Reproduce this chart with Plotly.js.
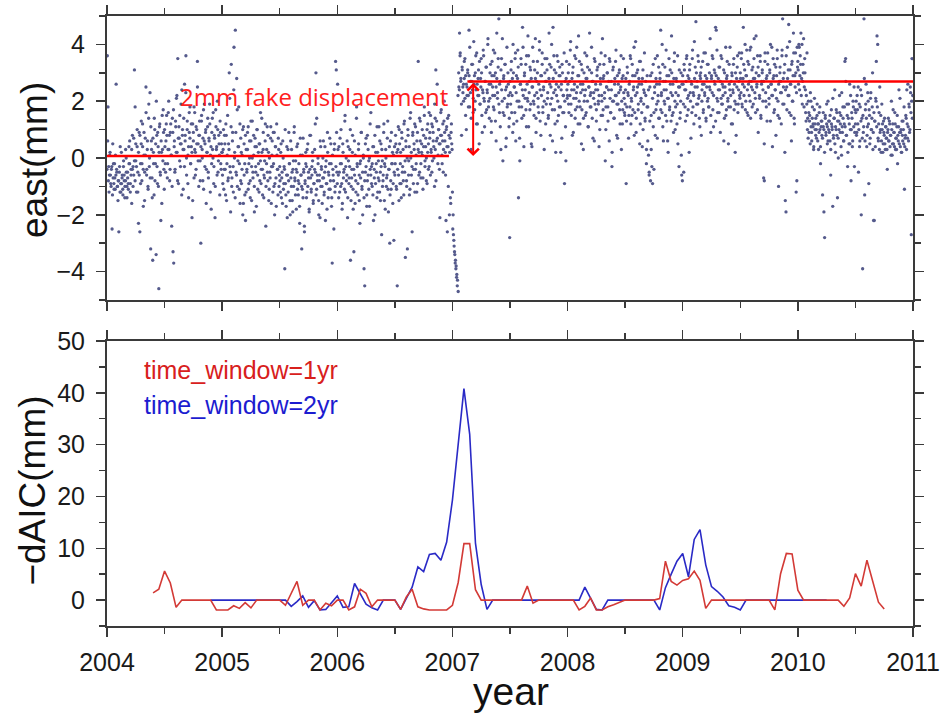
<!DOCTYPE html>
<html>
<head>
<meta charset="utf-8">
<script src="https://cdn.plot.ly/plotly-3.0.1.min.js"></script>
<style>html,body{margin:0;padding:0;background:#fff}#chart{width:941px;height:719px}</style>
</head>
<body>
<div id="chart"></div>
<script>
// ---------- top panel: east component (mm), half-year blocks, evenly sampled in time ----------
// pass 1 (samples at block positions i+0.5)
var east2004a=[3.6,1.8,-0.3,-0.6,0.2,-0.9,-0.4,-2.5,0.5,-0.2,-1.1,-0.7,0.1,2.6,-0.5,-1.0,-0.8,-2.6,-0.3,0.4,-1.2,-0.9,-0.6,-1.3,-0.1,-0.8,-1.0,0.3,-0.5,-1.4,-0.7,-1.1,-0.2,0.6,-0.9,-0.4,-1.6,0.8,-0.3,-0.6,3.1,1.8,-0.1,-1.2,0.4,-0.5,-2.3,0.9,-2.6,-0.2,0.5,-0.8,1.2,-0.4,0.1,-1.5,0.7,2.5,-0.6,0.3,-1.0,1.4,-0.3,2.3,-3.2,0.6,-0.7,-3.6,0.2,-1.3,1.0,-0.2,-3.4,0.8,-0.9,0.4,-4.6,1.1,-0.5,-2.2,0.2,1.5,-0.1,0.9,-1.1];
var east2004b=[0.4,-0.5,1.2,0.8,-0.2,1.6,0.3,-0.8,0.9,0.1,-2.4,1.4,-3.3,-3.7,0.6,-0.4,1.1,2.1,0.2,3.5,-0.9,0.7,1.5,-0.3,0.5,2.4,1.0,-1.1,0.3,2.6,0.8,3.6,-0.6,1.3,0.1,-1.4,0.9,1.8,-0.2,0.4,-2.1,1.2,0.6,-0.7,1.6,0.2,-0.4,1.0,3.4,0.5,-1.0,0.8,-0.1,-3.0,1.3,0.3,-0.8,1.7,0.6,-0.3,0.9,-1.6,0.2,1.1,-0.5,0.7,1.9,-1.2,0.4,-0.2,1.4,0.0,-0.9,0.8,-2.1,1.7,0.3,-0.6,1.0,-0.1,0.5,-1.3,0.9,-0.4,0.2];
var east2005a=[-0.6,0.3,-1.1,0.8,-0.4,1.2,-1.5,0.1,-0.8,0.5,3.0,-0.3,-1.9,3.3,-0.7,0.9,-1.2,3.9,0.2,4.5,-0.5,2.8,-1.0,0.4,1.8,-0.2,-1.6,0.7,-0.9,0.1,-2.0,1.1,-0.6,-1.3,-2.2,0.3,-0.4,0.9,-1.1,-0.2,0.6,-0.8,1.3,-1.5,0.0,-0.5,0.8,-1.0,0.4,-0.3,-1.7,1.0,-0.6,0.2,-1.2,0.5,-0.1,-0.9,1.4,-0.4,0.3,-1.4,-0.7,0.6,-2.4,-0.2,1.1,-0.8,0.2,-1.1,-0.5,0.7,-1.6,0.1,-0.3,0.9,-1.0,-2.0,0.4,-0.7,1.2,-0.4,-1.3,0.3,-0.6];
var east2005b=[-0.8,0.2,-1.4,-0.5,0.6,-1.1,-0.3,-3.9,-0.9,-1.7,0.4,-0.6,-1.2,0.9,-0.2,-2.0,-0.7,0.3,-1.5,-0.4,-1.0,1.1,-0.8,-0.1,-1.8,-0.5,0.5,-1.3,-0.9,-2.3,0.1,-0.6,-3.2,-1.1,0.7,-0.4,-2.6,-0.8,-0.2,-1.4,0.3,-1.0,-0.5,-1.9,0.8,-0.7,-1.2,-0.3,0.2,-1.6,-0.9,-0.4,1.2,3.0,-1.1,-0.6,0.0,-1.5,-0.8,-2.1,0.4,-0.3,-1.0,-0.7,0.6,-1.3,-0.5,-2.2,-0.1,-0.9,0.9,-1.4,-0.6,-0.2,-1.1,0.5,-1.7,-3.7,-0.4,-0.8,0.3,-1.2,3.4,3.1,-0.5];
var east2006a=[2.6,-0.6,0.4,-1.2,-0.2,1.0,-0.9,-1.6,0.2,-0.5,-1.1,1.5,-0.3,-0.8,0.6,-1.4,-0.1,-0.7,0.3,-3.6,-1.0,-0.4,0.8,-1.8,-3.3,-0.6,0.1,-1.2,1.8,-0.3,-0.9,0.5,-1.5,-0.2,-0.7,0.9,-1.1,-2.0,0.0,-3.9,-4.5,-0.5,0.7,-1.3,-0.8,0.3,-0.1,-1.7,1.2,-0.6,-0.3,-1.0,0.4,-2.2,-0.4,0.8,-0.9,-0.2,-1.4,0.2,-0.7,1.1,-1.2,-0.5,0.5,-2.7,-0.1,-0.8,0.9,-1.5,-0.3,0.3,-1.0,-0.6,1.3,-1.9,-0.4,-3.0,0.6,-1.1,-0.2,0.2,-0.9,-2.9,0.4];
var east2006b=[-0.2,0.5,-1.1,-4.5,0.3,-0.6,1.0,-0.9,0.2,-1.4,0.7,-0.3,-0.8,1.2,-0.5,-3.5,0.4,-1.0,-3.2,0.8,-0.1,-1.3,1.4,0.0,-0.6,-2.6,0.9,-0.4,0.3,-1.2,1.1,-0.2,0.6,-0.9,3.4,0.2,-0.5,1.3,-0.7,0.5,0.1,-1.1,0.8,1.5,-0.3,0.4,-0.8,1.0,0.2,-0.4,1.6,0.7,-0.6,0.3,1.2,-0.1,0.9,0.4,-1.0,1.4,3.1,0.6,2.6,-0.2,1.0,0.5,-2.1,0.8,1.7,0.1,0.6,-0.5,1.3,0.9,0.2,-2.2,1.1,-2.6,0.4,1.5,-2.0,0.7,-1.6,1.2,0.3];
var east2007a=[-2.5,-2.7,-3.1,-3.4,-3.6,-3.8,-4.1,-4.3,-4.7,2.5,4.4,3.7,2.8,0.8,3.1,2.3,2.6,3.4,2.1,2.9,1.0,2.5,3.0,2.2,4.5,1.8,2.7,0.3,3.3,2.4,1.6,4.1,2.9,2.0,3.6,1.2,2.6,2.2,3.1,0.5,1.9,2.8,3.5,1.5,2.4,3.8,2.1,1.1,2.7,3.2,1.7,2.3,4.2,2.0,1.4,3.0,2.6,0.9,3.4,2.2,1.8,2.9,3.7,1.3,2.5,4.4,2.1,3.2,4.9,1.6,2.7,0.3,3.5,2.0,-0.1,2.8,1.5,3.3,2.4,0.7,3.9,1.9,2.6,1.1,-2.8];
var east2007b=[2.3,3.1,1.6,2.8,4.0,1.2,2.5,3.5,0.6,2.9,2.0,3.8,-1.4,1.8,-0.1,2.6,3.3,1.4,4.6,2.2,0.4,3.0,2.4,1.7,3.6,2.1,4.3,1.1,2.7,3.2,1.9,0.5,2.5,3.9,2.0,1.5,3.1,2.8,0.9,2.3,3.4,1.8,2.6,4.1,1.3,2.9,2.2,3.7,1.6,2.4,0.3,3.0,2.7,1.9,3.5,2.1,1.4,2.8,3.3,0.8,2.5,4.0,1.7,4.6,2.3,3.1,1.2,0.2,2.6,3.6,2.0,1.5,2.9,3.2,1.8,2.4,0.7,3.0,2.2,1.6,-0.9,2.7,-0.1,3.4,2.1];
var east2008a=[2.6,1.9,3.3,2.2,4.1,1.5,2.8,3.0,0.9,2.4,3.6,1.7,2.1,3.9,2.5,1.2,2.9,3.4,1.8,2.3,0.5,3.1,2.6,1.4,2.0,3.7,2.4,1.6,2.8,3.2,1.1,2.5,4.4,2.2,1.8,3.0,2.7,0.7,2.3,3.5,1.9,2.6,1.3,3.1,2.4,2.0,0.4,3.3,2.8,1.5,2.2,4.2,1.7,2.9,2.1,3.6,1.0,2.5,3.0,1.8,2.4,0.6,3.4,1.6,2.7,-0.3,2.0,3.2,1.4,2.6,2.2,3.8,0.8,2.9,1.9,2.3,3.1,1.2,2.5,0.3,2.8,1.7,3.5,2.1,1.5];
var east2008b=[2.4,-0.9,1.8,3.0,2.2,1.5,2.7,3.6,1.2,2.0,3.3,1.7,2.5,0.8,2.9,4.1,1.4,2.3,3.1,1.9,2.6,0.5,3.4,2.1,1.6,2.8,1.0,2.4,3.7,1.3,2.2,0.3,2.9,1.8,0.1,-0.5,2.5,-0.8,1.5,3.0,-0.9,1.1,-0.4,2.3,3.5,1.7,2.6,0.7,2.0,3.2,1.4,2.8,4.5,2.2,1.6,3.3,0.6,2.4,1.9,2.7,3.8,1.3,2.1,0.2,2.9,1.7,3.1,2.3,4.3,1.5,2.6,0.9,3.4,2.0,1.8,2.8,1.2,3.6,2.2,-0.3,2.5,1.6,3.0,-0.6,-0.8];
var east2009a=[2.6,-0.5,3.1,1.8,2.4,3.5,1.5,2.9,2.2,0.2,3.3,2.0,2.7,1.6,3.8,2.3,1.2,2.8,3.2,4.8,1.9,2.5,3.6,2.1,1.4,2.9,3.0,0.8,2.4,3.4,1.7,2.6,2.2,3.7,1.3,2.8,2.0,3.3,1.8,2.5,4.2,1.5,2.9,2.3,3.5,1.1,2.7,3.0,4.6,4.5,2.1,1.6,2.8,3.2,2.4,0.9,3.6,1.9,2.6,2.2,3.1,1.4,2.5,3.9,1.7,2.9,2.0,0.5,3.3,2.4,1.8,2.7,3.0,1.2,2.3,3.5,2.6,0.2,1.9,2.8,3.2,1.6,2.4,3.7,2.1];
var east2009b=[2.8,3.5,1.9,2.6,4.6,2.2,3.1,1.7,2.9,3.8,2.4,1.5,3.3,2.7,2.0,3.9,2.5,1.8,3.2,2.8,4.2,2.3,1.6,3.0,2.6,3.6,0.9,2.9,2.1,3.4,1.4,2.7,3.1,2.4,-0.7,-0.8,3.7,2.0,2.8,1.3,3.3,2.5,1.9,3.0,4.0,2.6,2.2,0.4,3.5,2.9,1.7,2.4,3.2,2.1,3.8,1.5,-1.0,2.7,3.0,2.3,1.2,3.6,4.9,2.8,1.9,3.3,-1.5,-1.9,2.5,3.9,2.2,4.7,1.6,3.1,2.6,0.6,3.4,2.0,4.4,1.4,2.9,3.7,-1.2,-0.8,3.2];
var east2010a=[3.1,4.0,2.4,3.6,4.4,2.8,1.9,3.3,4.2,2.5,3.0,1.6,2.2,3.7,1.4,2.0,0.9,1.5,2.3,1.1,0.6,1.8,1.2,0.4,2.1,1.0,1.4,0.7,1.9,1.2,0.3,1.6,1.0,-0.2,1.3,0.8,-1.3,1.1,-1.9,-2.8,1.5,0.9,1.2,0.5,2.0,1.0,1.3,0.6,-0.6,1.7,1.1,-1.7,0.8,1.4,2.4,0.2,1.0,1.6,-1.4,0.7,1.3,2.2,0.9,1.5,0.1,1.1,1.8,0.6,1.2,3.4,3.5,0.8,1.9,-0.3,1.4,0.5,2.6,1.0,-0.8,1.6,0.4,2.0,1.1,-0.3,1.7];
var east2010b=[1.6,0.8,2.2,1.2,-0.5,1.9,0.6,2.4,-2.0,1.4,-3.9,0.9,4.9,-1.3,1.7,2.6,0.4,1.1,2.0,-0.9,1.5,0.7,2.3,1.0,1.8,0.3,-2.2,-2.2,1.3,2.1,3.4,4.3,4.0,0.6,1.6,2.5,1.0,0.2,1.9,1.2,0.5,0.9,1.4,0.3,1.1,0.7,-0.4,1.0,0.6,1.3,0.4,0.8,2.0,0.1,1.2,0.5,0.9,1.6,0.3,0.7,1.1,-0.2,0.6,2.4,0.9,0.4,1.0,0.2,0.8,1.3,0.5,-1.1,0.7,1.5,0.3,1.2,2.6,0.6,1.8,1.0,2.3,-2.7,3.5,2.2];
// pass 2 (samples at block positions i+0.0)
var east2004a2=[-0.4,0.6,-0.8,-1.2,0.1,-0.6,-1.0,-0.3,-1.3,-0.7,-0.9,-0.2,-1.1,-0.6,-0.4,-1.0,-1.5,-0.8,-0.5,-1.2,-0.9,0.2,-0.7,-1.1,-0.3,-0.6,-1.4,-0.8,0.0,-1.0,-0.5,-0.9,0.4,-0.2,-1.2,-0.6,0.3,-0.4,-1.0,0.7,-0.1,-0.8,0.5,-0.3,1.0,-1.2,0.2,-0.6,0.8,-0.9,1.3,-0.2,0.4,-1.7,0.9,-0.5,0.1,1.6,-0.4,0.6,-1.1,1.9,0.0,-0.7,1.1,0.3,-1.4,0.7,-0.2,1.4,-0.8,0.5,2.0,-0.3,0.9,-1.0,0.2,1.2,-0.6,0.6,-1.6,0.3,1.7,-0.4];
var east2004b2=[1.0,-0.2,0.6,1.5,-0.7,0.3,2.0,0.8,-0.4,1.2,0.1,-1.0,0.9,1.7,0.4,-0.5,1.3,0.2,2.2,-0.8,0.7,1.1,-0.1,0.5,1.9,-1.3,0.8,0.3,1.4,-0.3,0.6,2.3,0.0,1.0,-0.9,0.4,1.6,0.7,-0.2,1.2,0.2,-1.5,0.9,1.8,0.3,-0.6,1.1,0.5,2.5,-0.1,0.8,1.3,-0.8,0.4,1.5,0.0,0.7,-1.1,1.9,0.5,1.0,-0.4,0.2,1.4,-0.7,0.6,1.2,0.1,-1.8,0.9,0.3,1.6,-0.3,0.7,-1.0,1.1,0.4,2.0,-0.5,0.8,0.1,1.3,-0.2,0.5];
var east2005a2=[0.2,-0.9,1.0,-0.4,0.5,-1.3,0.8,-0.2,1.5,-0.7,0.3,2.1,-0.5,1.1,-1.0,0.6,-0.3,2.4,0.0,-1.4,0.9,-0.6,1.7,-0.1,0.4,-1.1,1.2,-0.8,0.2,-0.4,1.0,-1.6,0.5,-0.2,0.8,-1.2,-0.5,0.3,1.1,-0.9,0.0,-1.4,0.6,-0.3,1.3,-0.7,0.1,-1.9,0.7,-0.5,0.4,1.0,-1.1,-0.2,0.5,-0.8,1.6,-0.4,0.2,-1.3,0.9,-0.6,-0.1,1.2,-1.0,0.3,-0.5,0.8,-1.5,0.0,-0.7,1.1,-0.3,0.6,-1.2,-0.2,0.9,-0.9,0.4,-1.7,0.1,-0.4,0.7,-1.0];
var east2005b2=[-0.3,-1.2,0.5,-0.7,-1.6,0.0,-0.9,-0.4,1.0,-1.3,-0.6,-2.1,0.3,-0.8,-0.2,-1.5,0.6,-1.0,-0.5,-1.9,-0.1,0.9,-0.7,-1.3,-0.4,0.4,-1.1,-0.8,-0.2,-1.7,0.7,-0.6,-1.0,0.1,-1.4,-0.5,-2.4,-0.9,0.2,-0.3,-1.2,0.5,-0.7,-1.8,-0.4,0.8,-1.1,-0.6,-0.1,-1.5,-0.9,0.3,-0.5,-1.3,1.4,-0.8,-0.2,-2.0,-0.6,0.6,-1.0,-0.4,-1.6,0.0,-0.7,-1.2,0.4,-0.3,-0.9,-1.8,0.2,-0.5,-1.1,0.7,-0.8,-0.2,-1.4,0.1,-0.6,-2.5,0.5,-1.0,-0.3,0.9];
var east2006a2=[-0.9,0.3,-1.4,-0.5,0.7,-1.0,-0.2,-1.8,0.5,-0.7,-0.4,1.3,-1.2,0.0,-0.6,-2.1,0.4,-0.9,-0.3,1.0,-1.5,-0.7,0.2,-1.1,-0.4,0.6,-1.6,-0.8,1.4,-0.2,-1.3,0.3,-0.6,-2.3,-0.1,0.9,-1.0,-0.5,0.1,-1.4,-0.8,0.5,-0.3,-1.7,0.8,-0.6,-1.1,0.0,-0.4,1.6,-0.9,-0.2,-1.3,0.4,-0.7,-2.0,0.2,-0.5,1.1,-1.2,-0.1,-0.8,0.6,-1.5,-0.3,0.3,-1.0,-0.6,1.2,-0.2,-1.8,0.0,-0.7,0.7,-1.1,-0.4,0.4,-1.3,-0.8,0.9,-0.2,-1.6,0.1,-0.5];
var east2006b2=[-0.6,0.8,-1.0,0.2,-0.4,1.1,-1.5,0.5,-0.2,-0.9,0.9,-0.5,0.3,-1.3,1.3,-0.1,0.6,-0.8,0.0,1.0,-0.6,0.4,-1.1,1.6,0.2,-0.3,0.8,-0.9,0.5,1.2,-0.4,0.1,-1.2,0.9,0.3,-0.6,1.4,0.6,-0.2,0.2,1.0,-0.7,0.4,1.8,-0.1,0.7,0.0,-0.9,1.2,0.5,-0.3,0.9,1.5,0.2,-0.5,1.1,0.6,0.0,1.9,0.3,-0.8,1.3,0.7,0.1,1.0,-0.4,0.5,1.6,0.8,-0.2,1.2,0.3,2.0,0.6,-0.6,1.0,0.4,1.4,-1.0,0.8,0.2,-1.4,0.9,0.5];
var east2007a2=[-1.2,-2.0,-2.9,-3.3,-3.7,-3.9,-4.2,-4.5,2.2,3.0,2.4,3.6,2.7,1.9,3.2,2.5,2.0,2.8,3.5,1.5,2.6,2.2,3.1,1.8,2.9,3.9,2.3,1.4,2.7,3.3,2.1,2.6,1.7,3.0,2.4,3.7,1.2,2.8,2.2,3.4,1.9,2.5,3.0,0.9,2.3,3.6,2.0,2.7,1.6,3.2,2.4,4.0,1.8,2.6,2.1,3.3,1.3,2.9,2.5,3.8,1.7,2.2,3.0,0.6,2.8,2.3,3.5,1.9,2.6,1.1,3.1,2.4,4.2,1.6,2.9,2.1,3.3,0.4,2.5,1.8,3.0,2.2,1.4];
var east2007b2=[2.7,1.9,3.4,2.2,0.9,3.0,2.5,1.6,3.7,2.3,1.3,2.8,3.2,2.0,0.7,2.6,3.5,1.8,2.4,3.9,1.5,2.9,2.1,3.3,1.1,2.6,2.0,3.6,2.3,1.7,3.1,2.8,0.4,2.5,3.4,1.9,2.2,4.2,1.4,2.7,3.0,2.1,1.6,3.8,2.4,0.8,2.9,3.3,1.8,2.5,2.0,3.5,1.2,2.7,3.1,2.3,1.5,4.4,2.6,1.9,3.2,2.1,0.6,2.8,3.6,1.7,2.4,3.0,2.2,1.3,3.4,2.5,1.8,2.9,0.2,2.6,3.3,1.6,2.2,3.7,2.0,1.1,2.8,2.4];
var east2008a2=[2.2,3.0,1.6,2.7,3.8,1.9,2.4,0.8,3.2,2.1,2.6,1.4,3.5,2.3,1.8,2.9,4.3,2.0,1.2,2.6,3.3,1.7,2.4,0.3,3.0,2.2,1.5,2.8,3.6,2.0,1.1,2.5,3.1,1.8,2.3,3.9,1.4,2.7,2.1,0.6,3.4,2.4,1.7,2.9,3.2,1.9,2.2,1.0,2.6,3.7,2.0,1.5,2.8,3.3,2.3,-0.1,1.8,2.5,3.0,1.3,2.7,3.5,2.1,1.6,2.4,0.2,3.1,2.0,1.4,2.8,3.4,2.2,1.9,0.7,2.6,3.0,1.7,2.4,3.6,2.0,1.2,2.9,2.3,1.6];
var east2008b2=[1.9,2.8,1.3,3.2,2.3,0.7,2.6,1.8,3.5,2.1,1.5,2.9,2.4,3.9,1.6,2.2,0.9,3.0,2.5,1.7,2.8,3.4,1.2,2.0,2.6,0.4,3.1,1.9,2.3,1.4,2.7,-0.2,1.8,0.6,2.4,-0.6,1.3,2.9,0.3,-0.3,2.1,3.3,1.6,2.5,0.8,2.8,1.9,3.6,2.2,1.4,2.6,3.0,1.7,2.3,4.0,1.1,2.7,2.0,3.2,1.5,2.4,2.9,0.6,2.1,3.5,1.8,2.6,1.3,3.0,2.2,1.6,2.8,3.7,1.0,2.3,2.7,1.9,0.5,2.5,3.1,1.4,2.0,0.1,2.6];
var east2009a2=[2.9,1.9,3.3,2.4,1.3,2.7,3.6,2.1,1.7,2.8,3.1,2.3,0.7,2.6,3.5,1.8,2.2,4.1,2.5,1.5,3.0,2.7,1.9,3.4,2.2,1.1,2.8,3.2,2.0,2.6,1.6,3.7,2.3,2.9,1.4,2.5,3.3,2.1,1.8,3.0,2.4,0.9,2.8,3.6,1.7,2.2,3.1,2.6,1.3,2.9,3.8,2.0,2.4,1.6,3.2,2.7,2.1,3.5,1.9,2.5,0.6,3.0,2.3,1.5,2.8,3.4,2.1,1.8,2.6,3.9,2.2,1.2,2.9,2.4,3.3,1.7,2.0,3.0,0.8,2.5,3.6,1.9,2.7,2.2];
var east2009b2=[3.0,2.3,3.7,1.8,2.8,3.3,2.5,4.0,2.0,2.9,1.6,3.4,2.6,2.2,3.8,1.4,2.7,3.1,2.4,1.9,3.5,2.8,2.1,4.3,2.5,1.7,3.2,2.9,2.2,3.6,1.5,2.6,3.0,2.0,2.7,0.5,3.4,2.3,1.8,2.9,3.7,2.5,2.1,3.1,1.3,2.6,3.9,2.2,2.8,1.6,3.3,2.4,0.8,2.9,3.5,2.0,2.6,1.4,3.2,2.7,2.3,3.8,1.9,2.5,3.0,0.2,2.4,3.6,1.7,2.8,3.1,2.2,4.1,2.6,1.5,3.3,2.0,2.9,3.7,1.2,2.5,3.0,2.3,3.9];
var east2010a2=[3.4,2.6,3.9,2.9,3.3,2.2,4.0,2.7,3.0,1.8,3.5,2.4,1.3,1.9,1.0,0.7,1.6,1.3,0.5,2.0,0.9,1.4,1.1,0.3,1.7,1.2,0.8,1.0,1.5,0.6,1.2,0.9,1.8,0.4,1.1,1.3,0.7,1.6,1.0,0.2,1.4,0.8,1.9,1.1,0.6,1.3,0.9,1.5,0.3,1.2,1.0,2.1,0.7,1.4,0.5,1.1,1.7,0.8,1.3,0.0,1.0,1.6,1.2,0.4,2.3,0.9,1.4,0.6,1.8,1.1,2.7,0.8,1.5,0.2,1.9,1.2,0.5,2.2,1.0,1.4,0.6,1.8,2.5,0.9];
var east2010b2=[1.2,2.0,0.9,1.7,2.5,1.0,0.4,1.8,1.3,2.2,0.7,1.5,1.1,2.8,0.6,1.9,1.4,0.8,2.3,1.2,1.7,0.5,2.1,1.0,1.4,3.0,0.9,1.6,1.3,0.4,2.0,1.1,1.8,0.7,1.2,0.3,0.9,1.5,0.6,1.0,0.2,1.3,0.8,0.5,1.1,0.7,0.3,0.9,1.4,0.6,1.2,0.8,0.1,1.0,0.5,1.7,0.9,0.4,1.2,0.7,0.3,1.5,0.8,1.1,0.5,2.1,0.9,0.2,1.3,0.6,1.0,1.8,0.4,0.8,1.4,2.4,0.7,1.1,1.9,0.9,2.5,1.6,2.0,1.4];
var eastPass1=[east2004a,east2004b,east2005a,east2005b,east2006a,east2006b,east2007a,east2007b,east2008a,east2008b,east2009a,east2009b,east2010a,east2010b];
var eastPass2=[east2004a2,east2004b2,east2005a2,east2005b2,east2006a2,east2006b2,east2007a2,east2007b2,east2008a2,east2008b2,east2009a2,east2009b2,east2010a2,east2010b2];
var blockStart=2004.0, blockLength=0.5;

// offset lines (mm) and label
var stepLevels=[0.07,2.69];
var stepBreak=[2006.97,2007.13];
var stepLabel="2mm fake displacement";

// ---------- bottom panel: -dAIC, sampled every 0.05 yr ----------
var aicStart=2004.40, aicStep=0.05;
var dAIC_1yr=[1.4,2.1,5.6,3.3,-1.4,0,0,0,0,0,0,-1.9,-1.9,-1.9,-1.1,-1.6,-0.5,-1.5,0,0,0,0,0,-1.0,1.3,3.6,-1.0,0,0,-1.9,-0.6,-1.1,0,0,-1.9,-1.3,2.1,1.3,-1.3,0,0,0,0,-1.8,0.6,2.1,-1.3,-1.7,-1.9,-1.9,-1.9,-1.9,-1.0,3.4,10.9,10.9,2.0,0,0,0,0,0,0,0,0,2.7,-0.6,0,0,0,0,0,0,0,-1.9,-1.2,0.4,-1.9,-1.9,-1.3,-0.9,-0.5,0,0,0,0,0,0,0.3,7.5,3.6,2.9,3.8,4.1,5.6,3.8,-1.6,0,0,0,0,0,0,0,0,0,0,0,-1.9,5.1,9.0,8.9,1.9,0,0,0,0,0,0,0,-1.2,0.4,5.1,2.7,7.7,3.7,-0.4,-1.7];
var dAIC_2yrOffset=10;
var dAIC_2yr=[0,0,0,0,0,0,0,0,0,0,0,0,0,0,-1.2,-0.3,0.8,-1.4,-0.1,-1.9,-1.8,-0.6,0.8,-1.4,-1.3,3.2,1.3,-0.8,-1.5,-1.9,0,0,0,-1.8,0.4,2.5,6.4,5.5,8.8,9.0,7.7,11.2,19.3,30.2,40.8,32,11,3,-1.8,0,0,0,0,0,0,0,0,0,0,0,0,0,0,0,0,2.5,0.2,-1.8,-1.9,0,0,0,0,0,0,0,0,0,-1.9,2.4,5.0,7.5,9.0,4.5,11.7,13.6,6.8,2.6,1.7,0.6,-1.1,-1.4,-1.9,0,0,0,0,0,0,0,0,0,0,0,0,0,0,0];
var legendLabels=["time_window=1yr","time_window=2yr"];

// ---------- build traces ----------
var ex=[], ey=[];
function addPass(blocks,pos){
  blocks.forEach(function(b,k){
    var s=blockStart+k*blockLength;
    b.forEach(function(v,i){ ex.push(s+(i+pos)/b.length*blockLength); ey.push(v); });
  });
}
addPass(eastPass1,0.5);
addPass(eastPass2,0.0);
var t1=dAIC_1yr.map(function(v,i){return aicStart+i*aicStep;});
var t2=dAIC_2yr.map(function(v,i){return aicStart+(i+dAIC_2yrOffset)*aicStep;});

var RED='#d33a36', BLUE='#2a2ac6';
var traces=[
  {x:ex,y:ey,xaxis:'x',yaxis:'y',type:'scatter',mode:'markers',
   marker:{size:3.3,color:'#555a8c'},hoverinfo:'skip'},
  {x:t2,y:dAIC_2yr,xaxis:'x2',yaxis:'y2',type:'scatter',mode:'lines',
   line:{color:BLUE,width:1.6}},
  {x:t1,y:dAIC_1yr,xaxis:'x2',yaxis:'y2',type:'scatter',mode:'lines',
   line:{color:RED,width:1.6}}
];

var FONT='"Liberation Sans", Arial, Helvetica, sans-serif';
var AX='#3a3a3a';
function axisBase(){
  return {showline:true,linecolor:AX,linewidth:2,mirror:'allticks',ticks:'outside',
    ticklen:9,tickwidth:1.5,tickcolor:AX,showgrid:false,zeroline:false,
    tickfont:{family:FONT,size:25,color:'#1a1a1a'},fixedrange:true};
}
var xa=axisBase(); Object.assign(xa,{range:[2004,2011],dtick:1,tick0:2004,showticklabels:false,anchor:'y',
  minor:{dtick:0.5,ticklen:6,tickwidth:1.5,tickcolor:AX,ticks:'outside'}});
var xa2=axisBase(); Object.assign(xa2,{range:[2004,2011],dtick:1,tick0:2004,anchor:'y2',tickformat:'d',ticklabelstandoff:4,
  minor:{dtick:0.5,ticklen:6,tickwidth:1.5,tickcolor:AX,ticks:'outside'}});
var ya=axisBase(); Object.assign(ya,{range:[-5,5],dtick:2,tick0:0,domain:[0.5344,1],anchor:'x',ticklabelstandoff:6,
  minor:{dtick:1,ticklen:6,tickwidth:1.5,tickcolor:AX,ticks:'outside'}});
var ya2=axisBase(); Object.assign(ya2,{range:[-5,50],dtick:10,tick0:0,domain:[0,0.4672],anchor:'x2',ticklabelstandoff:6,
  minor:{dtick:5,ticklen:6,tickwidth:1.5,tickcolor:AX,ticks:'outside'}});

var layout={
  width:941,height:719,margin:{l:107,r:28,t:16,b:93},
  paper_bgcolor:'#fff',plot_bgcolor:'#fff',showlegend:false,
  xaxis:xa,yaxis:ya,xaxis2:xa2,yaxis2:ya2,
  shapes:[
    {type:'line',xref:'x',yref:'y',x0:2004,x1:stepBreak[0],y0:stepLevels[0],y1:stepLevels[0],line:{color:'#ff0000',width:2.5}},
    {type:'line',xref:'x',yref:'y',x0:stepBreak[1],x1:2011,y0:stepLevels[1],y1:stepLevels[1],line:{color:'#ff0000',width:2.5}}
  ],
  annotations:[
    {xref:'x',yref:'y',x:2007.18,y:stepLevels[0],ax:2007.18,ay:stepLevels[1],axref:'x',ayref:'y',
     text:'',showarrow:true,arrowside:'end+start',arrowhead:4,startarrowhead:4,arrowsize:1.1,startarrowsize:1.1,
     arrowwidth:2,arrowcolor:'#ff0000'},
    {xref:'x',yref:'y',x:2006.98,y:2.15,xanchor:'right',yanchor:'middle',showarrow:false,
     text:stepLabel,font:{family:'"Open Sans", "Noto Sans", sans-serif',size:24,color:'#ff2020'}},
    {xref:'x2',yref:'y2',x:2004.30,y:44.5,xanchor:'left',yanchor:'middle',showarrow:false,
     text:legendLabels[0],font:{family:FONT,size:25,color:'#d8201c'}},
    {xref:'x2',yref:'y2',x:2004.30,y:37.6,xanchor:'left',yanchor:'middle',showarrow:false,
     text:legendLabels[1],font:{family:FONT,size:25,color:'#1c1cd0'}},
    {xref:'paper',yref:'paper',x:-0.0906,y:0.7639,xanchor:'center',yanchor:'middle',showarrow:false,textangle:-90,
     text:'east(mm)',font:{family:FONT,size:37,color:'#111'}},
    {xref:'paper',yref:'paper',x:-0.0936,y:0.2213,xanchor:'center',yanchor:'middle',showarrow:false,textangle:-90,
     text:'\u2212dAIC(mm)',font:{family:FONT,size:37,color:'#111'}},
    {xref:'paper',yref:'paper',x:0.5012,y:-0.108,xanchor:'center',yanchor:'middle',showarrow:false,
     text:'year',font:{family:FONT,size:39,color:'#111'}}
  ]
};
Plotly.newPlot('chart',traces,layout,{displayModeBar:false,staticPlot:true});
</script>
</body>
</html>
